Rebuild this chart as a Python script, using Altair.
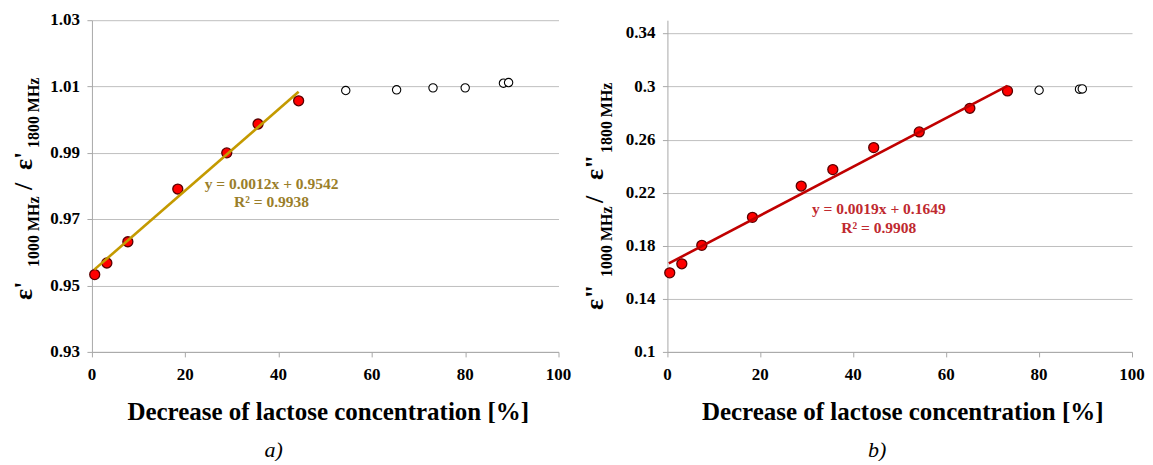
import altair as alt
import pandas as pd

# ---------------- data ----------------
# panel a)
a_fit_x = [0.6, 3.2, 7.7, 18.4, 28.9, 35.6, 44.3]
a_fit_y = [0.9533, 0.9568, 0.9632, 0.9791, 0.9900, 0.9987, 1.0057]
a_open_x = [54.4, 65.3, 73.1, 80.0, 88.2, 89.3]
a_open_y = [1.0088, 1.0090, 1.0096, 1.0096, 1.0110, 1.0112]
a_trend_x = [0.5, 44.3]
a_trend_y = [0.9548, 1.0084]
a_eq = ["y = 0.0012x + 0.9542", "R² = 0.9938"]
a_eq_x = [38.5, 38.5]
a_eq_y = [0.9806, 0.9752]
a_ticks = [0.93, 0.95, 0.97, 0.99, 1.01, 1.03]
a_tick_labels = ["0.93", "0.95", "0.97", "0.99", "1.01", "1.03"]

# panel b)
b_fit_x = [0.5, 3.1, 7.4, 18.3, 28.8, 35.6, 44.4, 54.2, 65.1, 73.2]
b_fit_y = [0.1596, 0.1664, 0.1803, 0.2014, 0.2250, 0.2374, 0.2540, 0.2658, 0.2836, 0.2967]
b_open_x = [80.0, 88.7, 89.3]
b_open_y = [0.2972, 0.2980, 0.2982]
b_trend_x = [0.3, 73.2]
b_trend_y = [0.1667, 0.3005]
b_eq = ["y = 0.0019x + 0.1649", "R² = 0.9908"]
b_eq_x = [45.5, 45.5]
b_eq_y = [0.2078, 0.1934]
b_ticks = [0.1, 0.14, 0.18, 0.22, 0.26, 0.30, 0.34]
b_tick_labels = ["0.1", "0.14", "0.18", "0.22", "0.26", "0.3", "0.34"]

x_ticks = [0, 20, 40, 60, 80, 100]
x_tick_labels = ["0", "20", "40", "60", "80", "100"]
x_title = "Decrease of lactose concentration [%]"

FONT = "Liberation Serif, Times New Roman, Times, DejaVu Serif, serif"
GRID = "#bfbfbf"
AXC = "#a8a8a8"
W_A, W_B, H = 467, 465, 332


def panel(fit_x, fit_y, open_x, open_y, tr_x, tr_y, eq, eq_x, eq_y,
          ydomain, yticks, ylabels, line_col, text_col, prime, title_y,
          title_x, sub, sub_pos, width):
    xs = alt.Scale(domain=[0, 100], nice=False, zero=False)
    ys = alt.Scale(domain=ydomain, nice=False, zero=False)
    common = dict(labels=False, domainColor=AXC, tickColor=AXC,
                  tickSize=5, domainWidth=1, title="")
    xax = alt.Axis(values=x_ticks, grid=False, **common)
    yax = alt.Axis(values=yticks, grid=True, gridColor=GRID, gridWidth=1,
                   **common)

    df_fit = pd.DataFrame({"x": fit_x, "y": fit_y})
    df_open = pd.DataFrame({"x": open_x, "y": open_y})
    df_tr = pd.DataFrame({"x": tr_x, "y": tr_y})
    df_eq = pd.DataFrame({"x": eq_x, "y": eq_y, "t": eq})
    df_xl = pd.DataFrame({"x": x_ticks, "t": x_tick_labels})
    df_yl = pd.DataFrame({"y": yticks, "t": ylabels})

    base_x = alt.X("x:Q", scale=xs, axis=xax)
    base_y = alt.Y("y:Q", scale=ys, axis=yax)

    pts = alt.Chart(df_fit).mark_point(
        filled=True, fill="#ff0000", stroke="#5a0000", strokeWidth=1.3,
        size=100, opacity=1, shape="circle"
    ).encode(x=base_x, y=base_y)
    opn = alt.Chart(df_open).mark_point(
        filled=False, fill="white", stroke="black", strokeWidth=1.1,
        size=70, opacity=1, shape="circle"
    ).encode(x="x:Q", y="y:Q")
    trend = alt.Chart(df_tr).mark_line(color=line_col, strokeWidth=2.6).encode(
        x="x:Q", y="y:Q")
    eqt = alt.Chart(df_eq).mark_text(
        font=FONT, fontWeight="bold", fontSize=15.5, color=text_col,
        align="center", baseline="middle"
    ).encode(x="x:Q", y="y:Q", text="t:N")

    # tick labels and x-axis title as serif text
    xlab = alt.Chart(df_xl).mark_text(
        font=FONT, fontWeight="bold", fontSize=17, color="black",
        align="center", baseline="middle"
    ).encode(x="x:Q", y=alt.value(H + 23), text="t:N")
    ylab = alt.Chart(df_yl).mark_text(
        font=FONT, fontWeight="bold", fontSize=17, color="black",
        align="right", baseline="middle"
    ).encode(y="y:Q", x=alt.value(-12), text="t:N")
    xtit = alt.Chart(pd.DataFrame({"t": [x_title]})).mark_text(
        font=FONT, fontWeight="bold", fontSize=25, color="black",
        align="center", baseline="middle"
    ).encode(x=alt.value(width / 2 + 3), y=alt.value(H + 60), text="t:N")

    layers = [pts, opn, trend, eqt, xlab, ylab, xtit]

    # rotated y-axis title with subscripts
    main_x, subx = title_x
    pieces = [("ε" + prime, "m"), ("1000 MHz", "s"), ("/", "m"),
              ("ε" + prime, "m"), ("1800 MHz", "s")]
    for (txt, kind), ypos in zip(pieces, title_y):
        layers.append(
            alt.Chart(pd.DataFrame({"t": [txt]})).mark_text(
                font=FONT, fontWeight="bold",
                fontSize=26 if kind == "m" else 16,
                angle=270, align="left", baseline="alphabetic", color="black"
            ).encode(x=alt.value(main_x if kind == "m" else subx),
                     y=alt.value(ypos), text="t:N")
        )
    # panel label
    layers.append(
        alt.Chart(pd.DataFrame({"t": [sub]})).mark_text(
            font=FONT, fontStyle="italic", fontSize=22, color="black",
            align="center", baseline="middle"
        ).encode(x=alt.value(sub_pos[0]), y=alt.value(sub_pos[1]), text="t:N")
    )
    return alt.layer(*layers).properties(width=width, height=H)


left = panel(a_fit_x, a_fit_y, a_open_x, a_open_y, a_trend_x, a_trend_y,
             a_eq, a_eq_x, a_eq_y, [0.93, 1.03], a_ticks, a_tick_labels,
             "#c49a00", "#9a7e2a", "'", [280, 247, 170, 150, 128], (-60, -53),
             "a)", (182, 430), W_A)
right = panel(b_fit_x, b_fit_y, b_open_x, b_open_y, b_trend_x, b_trend_y,
              b_eq, b_eq_x, b_eq_y, [0.1, 0.35], b_ticks, b_tick_labels,
              "#c00000", "#bf2a30", '"', [290, 257, 183, 160, 133], (-64, -55),
              "b)", (210, 430), W_B)

chart = alt.hconcat(left, right, spacing=109, bounds="flush").configure_view(
    stroke=None
).properties(
    padding={"left": 3, "top": 3, "right": 0, "bottom": 0},
    background="white"
)

chart.save("out.html", embed_options={"renderer": "svg", "actions": False})
